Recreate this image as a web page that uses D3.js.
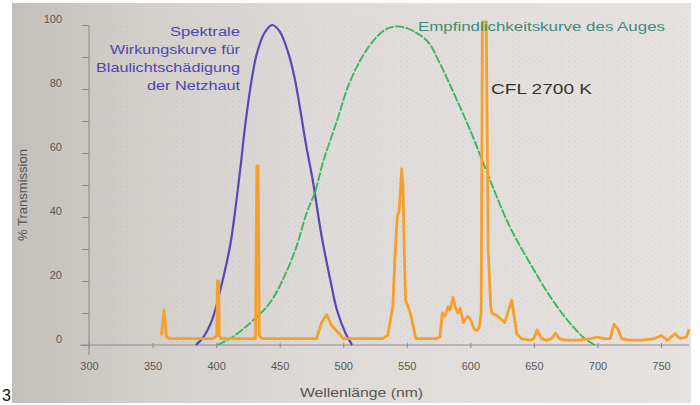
<!DOCTYPE html>
<html><head><meta charset="utf-8">
<script src="https://cdn.jsdelivr.net/npm/d3@7"></script>
<style>html,body{margin:0;padding:0;background:#fff}svg{display:block}</style>
</head><body>
<svg id="c" width="700" height="405"></svg>
<script>
// ---- data ----
const xTicks = [300, 350, 400, 450, 500, 550, 600, 650, 700, 750];
const yTickLabels = [0, 20, 40, 60, 80, 100];
const yMinorTicks = [0, 10, 20, 30, 40, 50, 60, 70, 80, 90, 100];
const blueNm  = [384, 390, 397, 405, 411, 415, 419, 423, 428, 432, 438, 444, 450, 457, 462, 466, 471, 476, 483, 490, 495, 502, 507];
const blueVal = [0, 2.5, 8, 20, 31, 42, 55, 69, 83, 91, 97.5, 100, 98, 91, 83, 74, 62, 51.5, 34, 20, 11, 3.5, 0];
const greenNm  = [401, 413, 430, 442, 452, 463, 471, 478, 484, 495, 505, 518, 531, 540, 550, 566, 576, 590, 600, 615, 631, 647, 663, 678, 690, 698];
const greenVal = [0, 2.5, 8, 13, 20, 30.5, 41, 48, 57, 70, 82, 92, 98, 99.5, 99, 95, 88, 76, 67, 52, 37, 25.5, 15, 7, 2, 0];
const cflNm = [357, 359, 361, 363, 380, 398, 400.5, 401, 402, 402.5, 404, 420, 431, 432, 433, 434, 436, 470, 479, 483, 487, 491, 497, 500, 510, 520, 531, 535, 539, 541, 542.5, 544, 546, 547, 548, 549, 552, 554, 557, 565, 573, 576, 578, 580, 582.5, 584, 586.5, 588, 590, 592, 594.5, 596, 598, 600, 603, 605, 607, 608.5, 609.5, 612.5, 614, 616, 617, 621.6, 627, 632.6, 636.5, 640, 647, 650, 652.5, 656, 660, 664, 667, 670, 675, 685, 695, 700, 705, 710, 713, 716, 719, 725, 735, 745, 750, 755, 761, 765, 770, 772];
const cflVal = [3, 11, 2.5, 2, 2, 2, 3, 20, 20, 3, 2, 2, 2, 56, 56, 3, 2, 2, 2, 7, 9.5, 6, 3.5, 2, 2, 2, 2, 3, 12, 30, 40, 42, 55, 50, 30, 14, 11, 8, 2, 2, 2, 2.5, 10, 9, 12, 11, 15, 12, 10, 11.5, 7, 8, 9, 8, 5, 4.5, 5.5, 10, 101, 101, 30, 12, 10, 9, 7, 14, 3.5, 2, 1.5, 2, 4.7, 2, 1.5, 2, 3.7, 2, 1.5, 1.5, 2, 2.5, 2, 2, 6.5, 5, 2, 1.5, 1.5, 2, 3, 1.5, 3.5, 2, 2.5, 5];
const blueText = ["Spektrale", "Wirkungskurve für", "Blaulichtschädigung", "der Netzhaut"];
const greenText = "Empfindlichkeitskurve des Auges";
const cflText = "CFL 2700 K";
const xTitle = "Wellenlänge (nm)";
const yTitle = "% Transmission";

// ---- drawing ----
const svg = d3.select("#c");
const defs = svg.append("defs");
const g = defs.append("linearGradient").attr("id", "bg").attr("x1", "0").attr("x2", "1").attr("y1", "0").attr("y2", "0");
[["0%", "#c3bfbb"], ["20%", "#d3cfcb"], ["45%", "#dedad7"], ["100%", "#e5e2e0"]].forEach(([o, c]) => g.append("stop").attr("offset", o).attr("stop-color", c));
const pat = defs.append("pattern").attr("id", "dots").attr("width", 7).attr("height", 5).attr("patternUnits", "userSpaceOnUse");
pat.append("rect").attr("x", 1).attr("y", 1).attr("width", 1).attr("height", 1).attr("fill", "#b0a8e0");
pat.append("rect").attr("x", 4).attr("y", 3).attr("width", 1).attr("height", 1).attr("fill", "#f0b8a8");

svg.append("rect").attr("x", 12).attr("y", 3).attr("width", 679).attr("height", 400).attr("fill", "url(#bg)");
svg.append("rect").attr("x", 100).attr("y", 20).attr("width", 590).attr("height", 330).attr("fill", "url(#dots)").attr("opacity", 0.35);

const x = d3.scaleLinear().domain([300, 772]).range([89, 689]);
const y = d3.scaleLinear().domain([0, 100]).range([345, 25]);
const axisCol = "#8c8a88";
const font = "Liberation Sans, Arial, sans-serif";

// axes lines
svg.append("line").attr("x1", x(300)).attr("x2", x(300)).attr("y1", 26).attr("y2", 355).attr("stroke", axisCol);
svg.append("line").attr("x1", 80).attr("x2", 689).attr("y1", y(0)).attr("y2", y(0)).attr("stroke", axisCol);

// x axis via d3
const xa = svg.append("g").attr("transform", `translate(0,${y(0)})`)
  .call(d3.axisBottom(x).tickValues(xTicks).tickSize(3).tickPadding(14).tickFormat(d3.format("d")));
xa.select(".domain").remove();
xa.selectAll(".tick line").attr("stroke", axisCol).attr("y1", -2);
xa.selectAll(".tick text").attr("fill", "#5a5856").attr("font-family", font).attr("font-size", 11);

// y axis via d3
const ya = svg.append("g").attr("transform", `translate(${x(300)},0)`)
  .call(d3.axisLeft(y).tickValues(yMinorTicks).tickSize(7).tickFormat(d => yTickLabels.includes(d) ? d : ""));
ya.select(".domain").remove();
ya.selectAll(".tick line").attr("stroke", axisCol).attr("x2", -7);
ya.selectAll(".tick text").attr("fill", "#5a5856").attr("font-family", font).attr("font-size", 11)
  .attr("x", -27).attr("dy", "-0.2em");

// curves
const smooth = d3.line().x(d => x(d[0])).y(d => y(d[1])).curve(d3.curveCatmullRom.alpha(0.5));
svg.append("path").datum(blueNm.map((n, i) => [n, blueVal[i]]))
  .attr("d", smooth).attr("fill", "none").attr("stroke", "#5548b8").attr("stroke-width", 2.2);
svg.append("path").datum(greenNm.map((n, i) => [n, greenVal[i]]))
  .attr("d", smooth).attr("fill", "none").attr("stroke", "#3cb65c").attr("stroke-width", 1.9).attr("stroke-dasharray", "9,1.5");
svg.append("path").datum(cflNm.map((n, i) => [n, cflVal[i]]))
  .attr("d", d3.line().x(d => x(d[0])).y(d => y(d[1]))).attr("fill", "none").attr("stroke", "#f6a02c").attr("stroke-width", 2.8).attr("stroke-linejoin", "round");

// texts
const bw = [70, 130, 144, 93];
svg.append("g").selectAll("text").data(blueText).join("text")
  .attr("x", 240).attr("y", (d, i) => 36 + i * 18).attr("text-anchor", "end")
  .attr("font-family", font).attr("font-size", 13.5).attr("fill", "#4d47ad")
  .attr("textLength", (d, i) => bw[i]).attr("lengthAdjust", "spacingAndGlyphs").text(d => d);
svg.append("text").attr("x", 418).attr("y", 31).attr("font-family", font).attr("font-size", 13)
  .attr("fill", "#3f8c7c").attr("textLength", 247).attr("lengthAdjust", "spacingAndGlyphs").text(greenText);
svg.append("text").attr("x", 491).attr("y", 94).attr("font-family", font).attr("font-size", 15)
  .attr("fill", "#333").attr("textLength", 101).attr("lengthAdjust", "spacingAndGlyphs").text(cflText);
svg.append("text").attr("x", 300).attr("y", 397).attr("font-family", font).attr("font-size", 13)
  .attr("fill", "#555").attr("textLength", 123).attr("lengthAdjust", "spacingAndGlyphs").text(xTitle);
svg.append("text").attr("transform", "translate(27,195) rotate(-90)").attr("text-anchor", "middle")
  .attr("font-family", font).attr("font-size", 13).attr("fill", "#555").text(yTitle);
svg.append("text").attr("x", 2).attr("y", 401).attr("font-family", font).attr("font-size", 16).attr("fill", "#111").text("3");
</script>
</body></html>
